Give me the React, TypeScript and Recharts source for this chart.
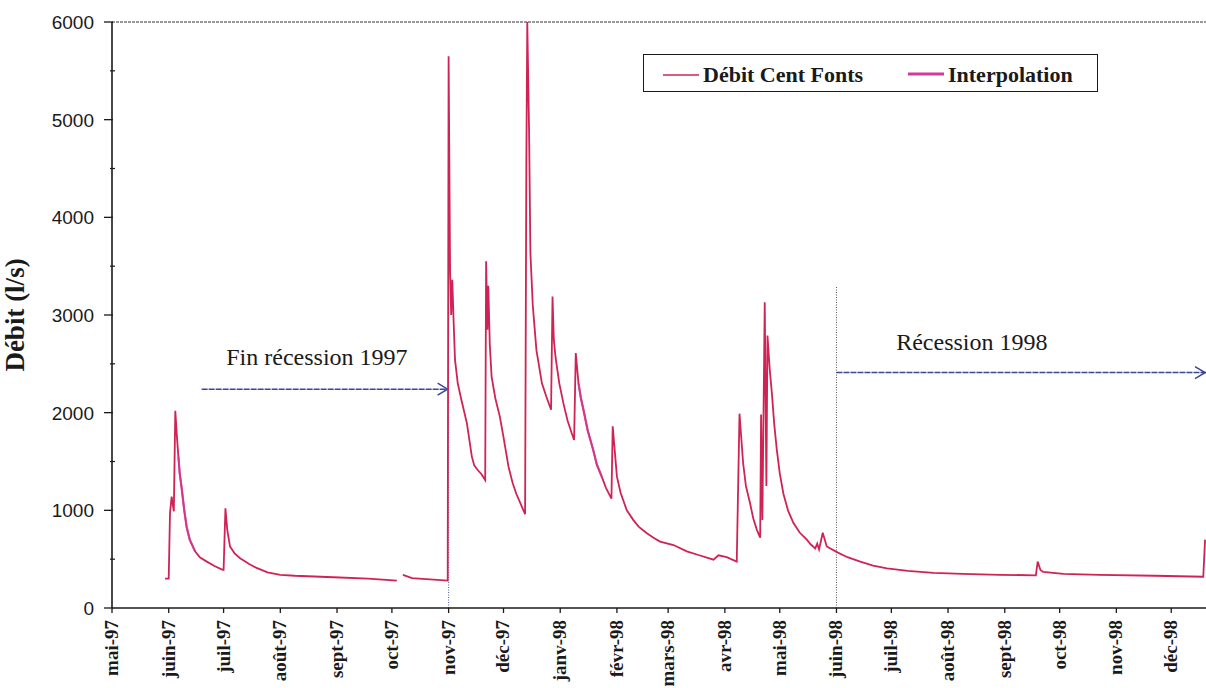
import React from 'react';
import {
    LineChart,
    Line,
    XAxis,
    YAxis,
    ReferenceLine,
    ReferenceDot,
    Legend,
} from 'recharts';

// days counted from 1 May 1997
const monthDays = [0, 31, 61, 92, 123, 153, 184, 214, 245, 276, 304, 335, 365, 396, 426, 457, 488, 518, 549, 579];
const monthLabels = [
    'mai-97', 'juin-97', 'juil-97', 'août-97', 'sept-97', 'oct-97', 'nov-97', 'déc-97',
    'janv-98', 'févr-98', 'mars-98', 'avr-98', 'mai-98', 'juin-98', 'juil-98', 'août-98',
    'sept-98', 'oct-98', 'nov-98', 'déc-98',
];

const yTicks = [0, 500, 1000, 1500, 2000, 2500, 3000, 3500, 4000, 4500, 5000, 5500, 6000];

// Débit Cent Fonts (l/s)
const debitDays = [
    29, 31, 31.7, 32.6, 33.8, 34.6, 35.5, 36.3, 37, 38, 39.5, 40.8, 42.5, 45.4, 48, 51.8, 56, 60.5,
    61, 62, 63, 64.5, 67, 70, 75, 79, 85, 92, 100, 121, 140, 155.7,
    157, 159, 164, 183.5, 184, 184.8, 185.4, 186, 186.8, 187.5, 189, 191, 194, 196.7, 198, 200, 202, 204,
    204.5, 205.2, 205.7, 206.5, 207.5, 209.5, 212, 214, 216.7, 219, 221, 223.5, 225.8,
    226.5, 227, 228, 228.7, 230, 232, 235, 237.5, 240, 240.8, 241.5, 242.5, 244.5, 246.7, 249, 251.3, 252.6,
    253.5, 255, 256.3, 257.7, 260, 263, 265, 267.7, 270, 273, 273.7, 276, 278, 281.4, 285, 288, 292.4, 296,
    299.6, 306.9, 314.2, 321, 328.8, 331.5, 336, 341.5, 343, 345, 346.5, 348.8, 350.5, 352.5, 354.3,
    354.8, 355.5, 356.8, 357.7, 358.3, 359.5, 360.7, 362, 363.4, 365, 367, 369.5, 372.5, 376, 379.8, 382,
    384.4, 385.5, 386.5, 388.5, 390.7, 396, 402, 409, 416, 423.6, 435, 449, 465, 485.5, 505, 506, 507.5,
    509, 520, 540, 570, 596.5, 597.5,
];
const debitValues = [
    300, 300, 970, 1140, 990, 2020, 1750, 1550, 1380, 1240, 1000, 830, 700, 580, 520, 475, 430, 390,
    390, 1020, 800, 630, 560, 510, 450, 410, 365, 340, 330, 315, 300, 280,
    null, 340, 305, 280, 5650, 3450, 3000, 3360, 2900, 2540, 2300, 2130, 1890, 1550, 1460, 1410, 1370, 1310,
    3550, 2850, 3300, 2700, 2370, 2150, 1960, 1750, 1450, 1280, 1170, 1060, 960,
    4600, 6000, 4860, 3640, 3100, 2640, 2300, 2160, 2030, 3190, 2750, 2560, 2300, 2100, 1920, 1790, 1720,
    2610, 2300, 2150, 2030, 1820, 1620, 1470, 1345, 1230, 1120, 1860, 1345, 1180, 1000, 900, 830, 765, 720,
    680, 645, 580, 540, 495, 540, 520, 475, 1990, 1480, 1250, 1070, 920, 800, 720,
    1980, 900, 3130, 1250, 2790, 2450, 2200, 1880, 1620, 1380, 1170, 1000, 870, 770, 700, 650,
    610, 660, 600, 770, 630, 575, 520, 475, 435, 405, 380, 360, 350, 340, 335, 475, 390,
    370, 350, 340, 330, 320, 700,
];

// Interpolation (gap filling), null separates the two stretches
const interpDays = [36.3, 37, 38, 39.5, 40.8, 42.5, 45.4, 150, 255, 256.3, 257.7, 260, 263, 265, 267.7];
const interpValues = [1550, 1380, 1240, 1000, 830, 700, 580, null, 2300, 2150, 2030, 1820, 1620, 1470, 1345];

const debitData = debitDays.map((day, i) => ({ day, value: debitValues[i] }));
const interpData = interpDays.map((day, i) => ({ day, value: interpValues[i] }));

const SERIF = '"Liberation Serif", "Times New Roman", serif';
const SANS = '"Liberation Sans", Arial, sans-serif';
const DEBIT_COLOR = '#cf2356';
const INTERP_COLOR = '#d33a98';
const ARROW_COLOR = '#3b4694';

const XTick = ({ x, y, payload }: any) => {
    const idx = monthDays.indexOf(payload.value);
    return (
        <g transform={`translate(${x},${y})`}>
            <text
                transform="rotate(-90)"
                x={-5}
                y={6}
                textAnchor="end"
                fontFamily={SERIF}
                fontWeight="bold"
                fontSize={19}
                fill="#1a1a1a"
            >
                {monthLabels[idx]}
            </text>
        </g>
    );
};

const YTick = ({ x, y, payload }: any) => {
    const major = payload.value % 1000 === 0;
    return (
        <g>
            {major ? (
                <>
                    <line x1={x - 8} y1={y} x2={x + 1} y2={y} stroke="#1a1a1a" strokeWidth={1.3} />
                    <text x={x - 18} y={y + 7} textAnchor="end" fontFamily={SANS} fontSize={19} fill="#1a1a1a">
                        {payload.value}
                    </text>
                </>
            ) : (
                <line x1={x - 2} y1={y} x2={x + 3} y2={y} stroke="#1a1a1a" strokeWidth={1.2} />
            )}
        </g>
    );
};

const Arrow = (props: any) => {
    const { x1, y1, x2, y2 } = props;
    return (
        <g>
            <line x1={x1} y1={y1} x2={x2} y2={y2} stroke={ARROW_COLOR} strokeWidth={1.5} strokeDasharray="6 1" />
            <path
                d={`M${x2 - 11},${y2 - 6} L${x2 - 1},${y2} L${x2 - 11},${y2 + 6}`}
                fill="none"
                stroke={ARROW_COLOR}
                strokeWidth={1.5}
            />
        </g>
    );
};

const noteText = (text: string) => (props: any) => (
    <text x={props.cx} y={props.cy} textAnchor="middle" fontFamily={SERIF} fontSize={24} fill="#1a1a1a">
        {text}
    </text>
);

const LegendBox = () => (
    <div
        style={{
            position: 'relative',
            width: 455,
            height: 38,
            boxSizing: 'border-box',
            border: '1.5px solid #1a1a1a',
            background: '#fff',
            fontFamily: SERIF,
            fontWeight: 'bold',
            fontSize: 22,
            color: '#1a1a1a',
        }}
    >
        <svg width={36} height={6} style={{ position: 'absolute', left: 19, top: 17 }}>
            <line x1={0} y1={3} x2={36} y2={3} stroke={DEBIT_COLOR} strokeWidth={1.5} />
        </svg>
        <span style={{ position: 'absolute', left: 59, top: 8, lineHeight: '24px' }}>Débit Cent Fonts</span>
        <svg width={36} height={6} style={{ position: 'absolute', left: 264, top: 16 }}>
            <line x1={0} y1={3} x2={36} y2={3} stroke={INTERP_COLOR} strokeWidth={3} />
        </svg>
        <span style={{ position: 'absolute', left: 304, top: 8, lineHeight: '24px' }}>Interpolation</span>
    </div>
);

const App: React.FC = () => {
    return (
        <div style={{ position: 'absolute', left: 0, top: 0, width: 1206, height: 688, background: '#fff' }}>
            <LineChart width={1206} height={688} margin={{ top: 22, right: 0, bottom: 0, left: 0 }}>
                <XAxis
                    type="number"
                    dataKey="day"
                    domain={[0, 598]}
                    ticks={monthDays}
                    interval={0}
                    allowDataOverflow
                    height={80}
                    tick={<XTick />}
                    tickSize={5}
                    tickMargin={2}
                    tickLine={{ stroke: '#1a1a1a', strokeWidth: 1.3 }}
                    axisLine={{ stroke: '#1a1a1a', strokeWidth: 1.6 }}
                />
                <YAxis
                    type="number"
                    domain={[0, 6000]}
                    ticks={yTicks}
                    interval={0}
                    allowDataOverflow
                    width={112}
                    tick={<YTick />}
                    tickLine={false}
                    tickSize={0}
                    tickMargin={0}
                    axisLine={{ stroke: '#1a1a1a', strokeWidth: 1.6 }}
                    label={{
                        value: 'Débit (l/s)',
                        angle: -90,
                        position: 'insideLeft',
                        offset: 14,
                        style: { fontFamily: SERIF, fontWeight: 'bold', fontSize: 27, fill: '#1a1a1a', textAnchor: 'middle' },
                    }}
                />
                <ReferenceLine y={6000} stroke="#333" strokeWidth={1.2} strokeDasharray="3 1" />
                <ReferenceLine
                    segment={[{ x: 184, y: 0 }, { x: 184, y: 3280 }]}
                    stroke="#4a5a9a"
                    strokeWidth={1}
                    strokeDasharray="1 1.5"
                />
                <ReferenceLine
                    segment={[{ x: 396, y: 0 }, { x: 396, y: 3290 }]}
                    stroke="#555"
                    strokeWidth={1}
                    strokeDasharray="1 1.5"
                />
                <ReferenceLine segment={[{ x: 49, y: 2240 }, { x: 184, y: 2240 }]} shape={Arrow} />
                <ReferenceLine segment={[{ x: 396, y: 2410 }, { x: 598, y: 2410 }]} shape={Arrow} ifOverflow="visible" />
                <ReferenceDot x={112} y={2490} r={0} shape={noteText('Fin récession 1997')} />
                <ReferenceDot x={470} y={2640} r={0} shape={noteText('Récession 1998')} />
                <Legend
                    layout="horizontal"
                    verticalAlign="middle"
                    align="center"
                    content={<LegendBox />}
                    wrapperStyle={{ left: 643, top: 54, width: 455, height: 38 }}
                />
                <Line
                    data={debitData}
                    dataKey="value"
                    name="Débit Cent Fonts"
                    type="linear"
                    stroke={DEBIT_COLOR}
                    strokeWidth={1.8}
                    dot={false}
                    connectNulls={false}
                    isAnimationActive={false}
                />
                <Line
                    data={interpData}
                    dataKey="value"
                    name="Interpolation"
                    type="linear"
                    stroke={INTERP_COLOR}
                    strokeWidth={2.2}
                    strokeOpacity={0.8}
                    dot={false}
                    connectNulls={false}
                    isAnimationActive={false}
                />
            </LineChart>
        </div>
    );
};

export default App;
